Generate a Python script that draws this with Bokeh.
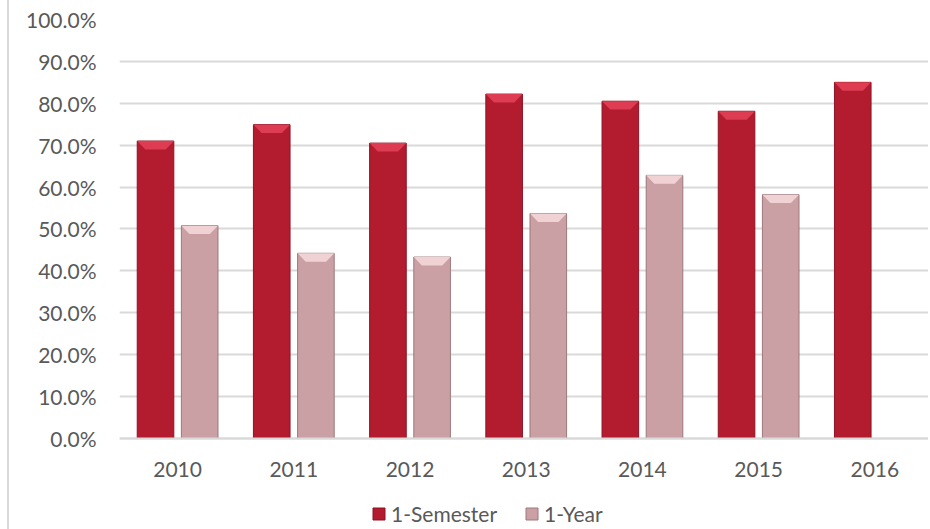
from bokeh.plotting import figure
from bokeh.models import Range1d, FixedTicker, Legend, LegendItem
from bokeh.embed import file_html
from bokeh.resources import INLINE

years = ["2010", "2011", "2012", "2013", "2014", "2015", "2016"]
semester = [71.0, 74.9, 70.5, 82.2, 80.5, 78.1, 85.0]
one_year = [50.8, 44.2, 43.3, 53.7, 62.8, 58.2, None]

FONT = "Lato"
TXT = "#595959"
GRID = "#D9D9D9"

p = figure(width=921, height=529, output_backend="svg", toolbar_location=None,
           x_range=Range1d(-0.5, 6.479), y_range=Range1d(-21.48, 100),
           min_border_left=110, min_border_right=0, min_border_top=19, min_border_bottom=1,
           styles={"margin-left": "7px", "border-left": "2px solid #D9D9D9"})
p.outline_line_color = None
p.background_fill_color = "white"
p.border_fill_color = "white"

xs = list(range(len(years)))
w = 0.315
off = 0.19

def bars(vals, dx, body, edge, bevel):
    x = [i + dx for i, v in zip(xs, vals) if v is not None]
    t = [v for v in vals if v is not None]
    r = p.vbar(x=x, top=t, bottom=0, width=w, fill_color=body, line_color=edge, line_width=1)
    px, py = [], []
    for xi, ti in zip(x, t):
        px.append([xi - w / 2, xi + w / 2, xi + w / 2 - 0.07, xi - w / 2 + 0.07])
        py.append([ti, ti, ti - 2.0, ti - 2.0])
    p.patches(px, py, fill_color=bevel, line_color=None)
    return r

r1 = bars(semester, -off, "#B31B2E", "#8E1325", "#DE3C52")
r2 = bars(one_year, off, "#CBA0A4", "#9C787C", "#F0D2D4")

p.yaxis.ticker = FixedTicker(ticks=[0, 10, 20, 30, 40, 50, 60, 70, 80, 90, 100])
p.yaxis.major_label_overrides = {v: f"{v:.1f}%" for v in range(0, 101, 10)}
p.yaxis.axis_line_color = None
p.yaxis.major_tick_line_color = None
p.yaxis.minor_tick_line_color = None
p.yaxis.major_tick_out = 0
p.yaxis.major_tick_in = 0
p.yaxis.major_label_standoff = 23
p.yaxis.major_label_text_font = FONT
p.yaxis.major_label_text_font_size = "21px"
p.yaxis.major_label_text_color = TXT

p.xaxis.fixed_location = 0
p.xaxis.ticker = FixedTicker(ticks=xs)
p.xaxis.major_label_overrides = {i: y for i, y in enumerate(years)}
p.xaxis.axis_line_color = GRID
p.xaxis.axis_line_width = 2
p.xaxis.major_tick_line_color = None
p.xaxis.minor_tick_line_color = None
p.xaxis.major_tick_out = 0
p.xaxis.major_tick_in = 0
p.xaxis.major_label_standoff = 24
p.xaxis.major_label_text_font = FONT
p.xaxis.major_label_text_font_size = "21px"
p.xaxis.major_label_text_color = TXT

p.xgrid.grid_line_color = None
p.ygrid.grid_line_color = GRID
p.ygrid.grid_line_width = 2

legend = Legend(items=[LegendItem(label="1-Semester", renderers=[r1]),
                       LegendItem(label="1-Year", renderers=[r2])],
                orientation="horizontal", location=(252, 2),
                label_text_font=FONT, label_text_font_size="21px", label_text_color=TXT,
                glyph_width=15, glyph_height=15, label_standoff=5, spacing=27,
                padding=0, margin=0, border_line_color=None, background_fill_alpha=0)
p.add_layout(legend, "center")

open("out.html", "w").write(file_html(p, INLINE))
